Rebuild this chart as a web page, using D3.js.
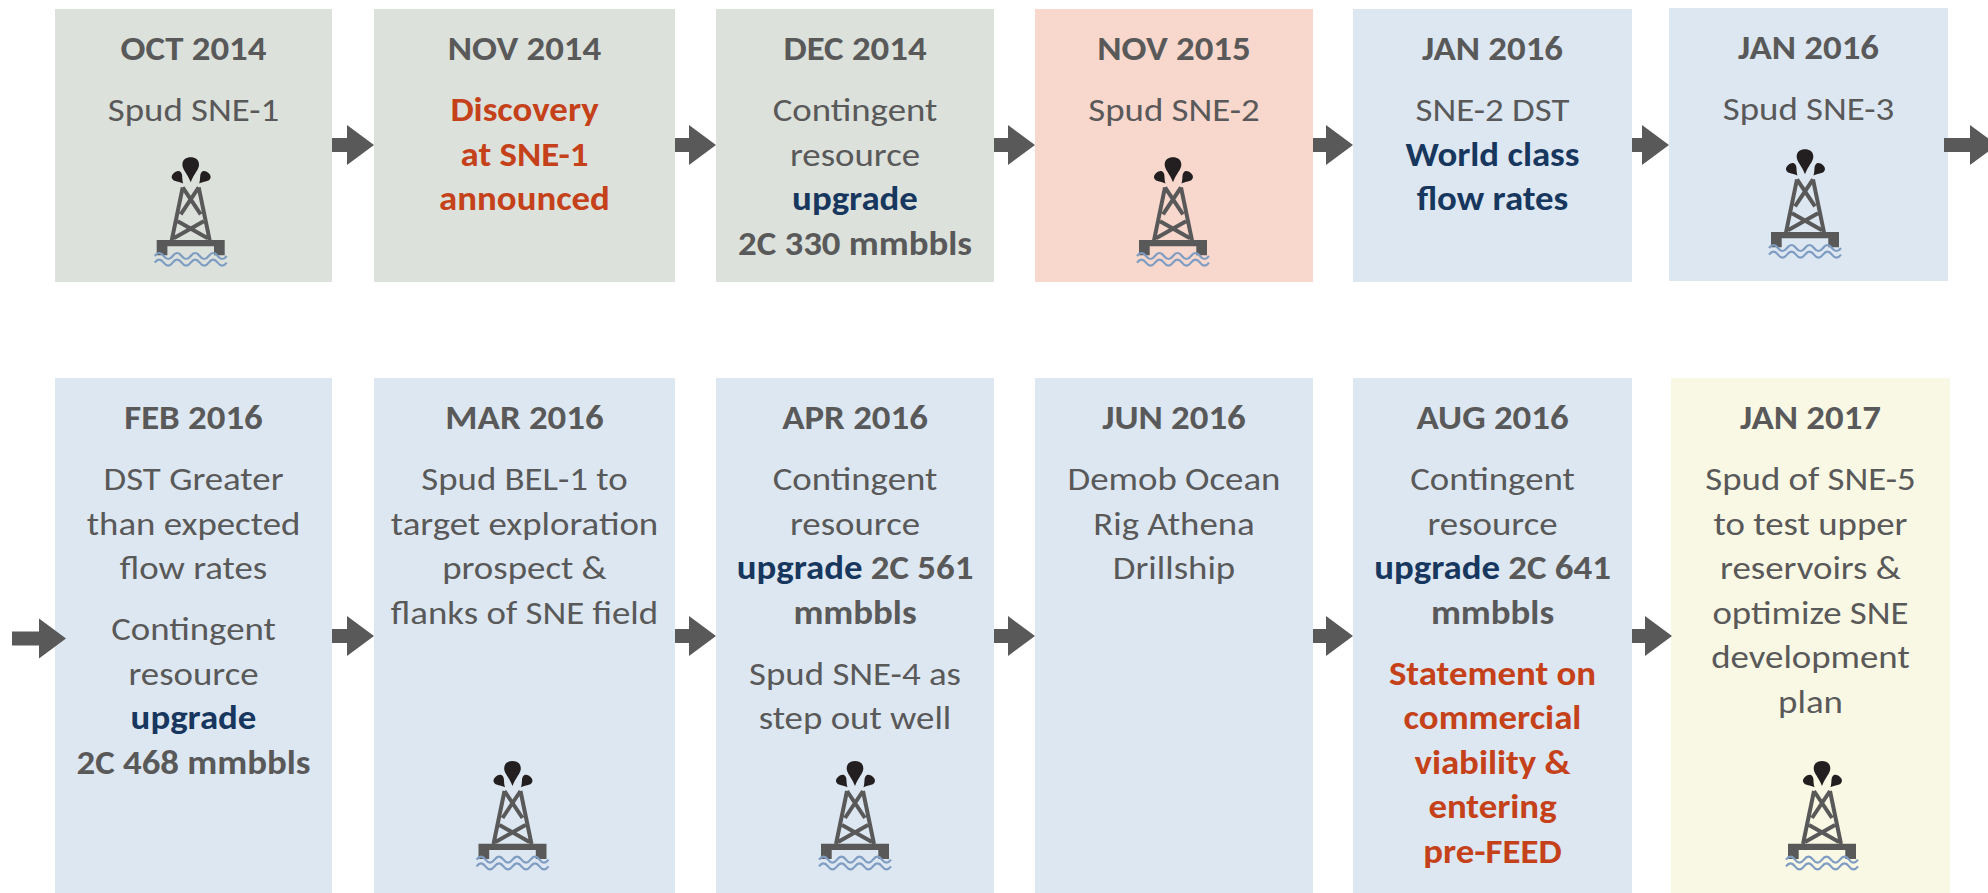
<!DOCTYPE html>
<html><head><meta charset="utf-8">
<script src="https://cdn.jsdelivr.net/npm/d3@7/dist/d3.min.js"></script>
<style>html,body{margin:0;padding:0;background:#fff;overflow:hidden}svg{display:block}</style>
</head><body><svg id="c" width="1988" height="893"></svg>
<script>
// ---- content ----
const dates = ["OCT 2014","NOV 2014","DEC 2014","NOV 2015","JAN 2016","JAN 2016",
               "FEB 2016","MAR 2016","APR 2016","JUN 2016","AUG 2016","JAN 2017"];
const phases = ["grey","grey","grey","pink","blue","blue","blue","blue","blue","blue","blue","yellow"];
// each card: paragraphs > lines > runs [text, kind]
const bodies = [
 [[[["Spud SNE-1","n"]]]],
 [[[["Discovery","r"]],[["at SNE-1","r"]],[["announced","r"]]]],
 [[[["Contingent","n"]],[["resource","n"]],[["upgrade","b"]],[["2C 330 mmbbls","g"]]]],
 [[[["Spud SNE-2","n"]]]],
 [[[["SNE-2 DST","n"]],[["World class","b"]],[["flow rates","b"]]]],
 [[[["Spud SNE-3","n"]]]],
 [[[["DST Greater","n"]],[["than expected","n"]],[["flow rates","n"]]],
  [[["Contingent","n"]],[["resource","n"]],[["upgrade","b"]],[["2C 468 mmbbls","g"]]]],
 [[[["Spud BEL-1 to","n"]],[["target exploration","n"]],[["prospect &","n"]],[["flanks of SNE field","n"]]]],
 [[[["Contingent","n"]],[["resource","n"]],[["upgrade ","b"],["2C 561","g"]],[["mmbbls","g"]]],
  [[["Spud SNE-4 as","n"]],[["step out well","n"]]]],
 [[[["Demob Ocean","n"]],[["Rig Athena","n"]],[["Drillship","n"]]]],
 [[[["Contingent","n"]],[["resource","n"]],[["upgrade ","b"],["2C 641","g"]],[["mmbbls","g"]]],
  [[["Statement on","r"]],[["commercial","r"]],[["viability &","r"]],[["entering","r"]],[["pre-FEED","r"]]]],
 [[[["Spud of SNE-5","n"]],[["to test upper","n"]],[["reservoirs &","n"]],[["optimize SNE","n"]],[["development","n"]],[["plan","n"]]]]
];
const rigCards = [0,3,5,7,8,11];
const rows = [0,0,0,0,0,0,1,1,1,1,1,1];
const cols = [0,1,2,3,4,5,0,1,2,3,4,5];

// ---- layout ----
const colLeft  = d3.scaleOrdinal([0,1,2,3,4,5],[55,374,716,1035,1353,1669]);
const colRight = d3.scaleOrdinal([0,1,2,3,4,5],[332,675,994,1313,1632,1948]);
const rowTop = d3.scaleOrdinal([0,1],[9,378]);
const rowBottom = d3.scaleOrdinal([0,1],[282,893]);
const arrowY = d3.scaleOrdinal([0,1],[145,636]);
const fill = d3.scaleOrdinal(["grey","pink","blue","yellow"],["#dce1dc","#f8d7cd","#dde7f1","#f9f8e5"]);
const ink = d3.scaleOrdinal(["n","g","b","r"],["#595959","#595959","#17375e","#c5411a"]);
const weight = d3.scaleOrdinal(["n","g","b","r"],[400,700,700,700]);
const lineStep = 44.5, paraGap = 16.5, dateY = 39, bodyY = 100.5;
const fontSize = 33.5, stretch = 1.1;

const svg = d3.select("#c");
svg.append("rect").attr("width",1988).attr("height",893).attr("fill","#fff");
const FONT = "Carlito, Calibri, Lato, sans-serif";

const cards = dates.map((d,i)=>({date:d,phase:phases[i],body:bodies[i],row:rows[i],col:cols[i],i}));
const topFix = i => i===5 ? -1 : 0;
const xFix = i => i===11 ? 2 : 0;

const g = svg.selectAll("g.card").data(cards).join("g").attr("class","card")
  .attr("transform",d=>`translate(${colLeft(d.col)+xFix(d.i)},${rowTop(d.row)+topFix(d.i)})`);
g.append("rect")
  .attr("width",d=>colRight(d.col)-colLeft(d.col))
  .attr("height",d=>rowBottom(d.row)-rowTop(d.row))
  .attr("fill",d=>fill(d.phase));
const cx = d=>(colRight(d.col)-colLeft(d.col))/2;
const place = (d,y)=>`translate(${cx(d)},${y}) scale(${stretch},1)`;
g.append("text").text(d=>d.date)
  .attr("transform",d=>place(d,dateY)).attr("dy","0.35em").attr("text-anchor","middle")
  .attr("font-family",FONT).attr("font-weight",700).attr("font-size",fontSize).attr("fill","#595959");
g.each(function(d){
  const sel = d3.select(this);
  let y = bodyY;
  d.body.forEach(par=>{
    par.forEach(line=>{
      const t = sel.append("text").attr("transform",place(d,y)).attr("dy","0.35em")
        .attr("text-anchor","middle").attr("font-family",FONT).attr("font-size",fontSize)
        .style("white-space","pre");
      line.forEach(([s,k])=>t.append("tspan").text(s).attr("fill",ink(k)).attr("font-weight",weight(k)));
      y += lineStep;
    });
    y += paraGap;
  });
});

// rig glyph
const drop = (x,y,w,h,rot)=>`<path transform="translate(${x},${y}) rotate(${rot})" d="M0,${h} C${-w*0.2},${h*0.65} ${-w*0.52},${h*0.5} ${-w*0.52},${h*0.3} C${-w*0.52},${h*0.08} ${-w*0.28},0 0,0 C${w*0.28},0 ${w*0.52},${h*0.08} ${w*0.52},${h*0.3} C${w*0.52},${h*0.5} ${w*0.2},${h*0.65} 0,${h} Z" fill="#231f20"/>`;
const wave = y=>{
  const p=d3.path(); p.moveTo(-36,y);
  for(let k=0;k<4;k++){const a=-36+k*18; p.quadraticCurveTo(a+4.5,y-6,a+9,y); p.quadraticCurveTo(a+13.5,y+6,a+18,y);}
  return `<path d="${p}" fill="none" stroke="#7f9dc2" stroke-width="2.2"/>`;
};
const rigGlyph = drop(0,0,16,25,0)+drop(-16.5,15.5,10.5,14,-40)+drop(17.5,15.5,10.5,14,40)
 +`<path d="M-8,30 L-19,83 M8,30 L19,83 M-8,30 L10,57 M8,30 L-10,57 M-13,64 L17,81 M13,64 L-17,81" fill="none" stroke="#595959" stroke-width="4"/>`
 +`<path d="M-34,82.7 H34 V98 H23.3 V89 H-23.3 V98 H-34 Z" fill="#595959"/>`
 +wave(98.7)+wave(105.3);
const rigPos = {0:[190.7,157.3],3:[1173,157.3],5:[1805,149.3],7:[512.5,761],8:[855,761],11:[1822,761]};
svg.selectAll("g.rig").data(rigCards).join("g").attr("class","rig")
  .attr("transform",d=>`translate(${rigPos[d][0]},${rigPos[d][1]})`).html(rigGlyph);

// arrows: [start x, row, length]
const arrowStarts = [[332,0,42],[675,0,41],[994,0,41],[1313,0,40],[1632,0,37],[1944,0,53],
                     [12,1,54],[332,1,42],[675,1,41],[994,1,41],[1313,1,40],[1632,1,40]];
const arrowPath = len=>{
  const p=d3.path(); const h=len-27;
  p.moveTo(0,-7); p.lineTo(h,-7); p.lineTo(h,-20); p.lineTo(len,0); p.lineTo(h,20); p.lineTo(h,7); p.lineTo(0,7); p.closePath();
  return p.toString();
};
svg.selectAll("path.arrow").data(arrowStarts).join("path").attr("class","arrow")
  .attr("d",d=>arrowPath(d[2])).attr("fill","#595959")
  .attr("transform",d=>`translate(${d[0]},${arrowY(d[1])+(d[0]===12?2.5:0)})`);
</script></body></html>
